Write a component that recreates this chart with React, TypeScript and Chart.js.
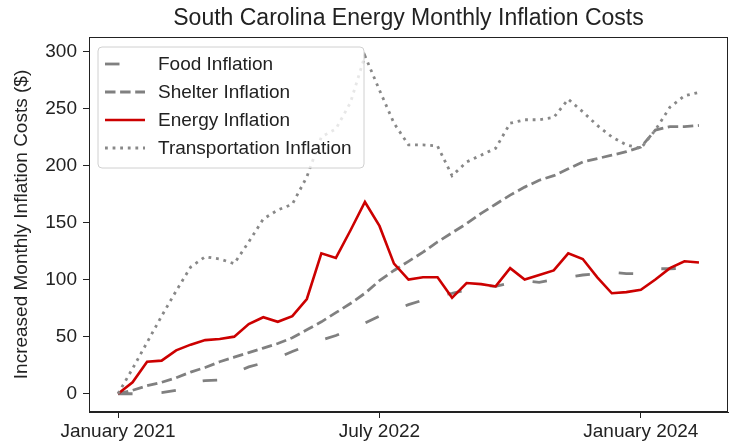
import React, { useEffect, useRef } from "react";
import { Chart, registerables } from "chart.js";

Chart.register(...registerables);

const months = [
  "2021-01", "2021-02", "2021-03", "2021-04", "2021-05", "2021-06", "2021-07", "2021-08", "2021-09", "2021-10", "2021-11", "2021-12",
  "2022-01", "2022-02", "2022-03", "2022-04", "2022-05", "2022-06", "2022-07", "2022-08", "2022-09", "2022-10", "2022-11", "2022-12",
  "2023-01", "2023-02", "2023-03", "2023-04", "2023-05", "2023-06", "2023-07", "2023-08", "2023-09", "2023-10", "2023-11", "2023-12",
  "2024-01", "2024-02", "2024-03", "2024-04", "2024-05",
];

const foodInflation = [0, 0, 0, 1, 3, 10, 11.5, 12, 18, 23.5, 27, 31.5, 37, 42, 47, 51, 56, 62, 68, 73, 78, 82, 86, 88, 91, 95, 94, 97, 99, 97.5, 100, 102, 104, 105, 106.5, 105.3, 105, 109.5, 109.5, 110, 111];
const shelterInflation = [0, 3, 7, 10, 14, 19, 23, 28, 32, 36, 40, 44, 49, 56, 63, 71, 79, 88, 99, 108, 116, 124, 133, 141, 149, 158, 166, 174, 181, 187, 191, 197, 203, 206, 209, 212, 216, 231, 234, 234, 235];
const energyInflation = [0, 10, 28, 29, 38, 43, 47, 48, 50, 61, 67, 63, 68, 83, 123, 119, 143, 168, 147, 114, 100, 102, 102, 84, 97, 96, 94, 110, 100, 104, 108, 123, 118, 102, 88, 89, 91, 100, 110, 116, 115];
const transportationInflation = [0, 22, 45, 68, 90, 111, 120, 118, 114, 133, 153, 161, 166, 190, 225, 232, 255, 296, 266, 237, 218, 218, 217, 191, 203, 209, 215, 237, 240, 240, 242, 258, 247, 235, 225, 218, 215, 231, 251, 261, 264];

const xTickIndex = [0, 18, 36];
const xTickLabels = ["January 2021", "July 2022", "January 2024"];
const yTickValues = [0, 50, 100, 150, 200, 250, 300];

const FONT = "'Liberation Sans', Arial, Helvetica, sans-serif";
const TEXT = "#222222";

const seriesNames = ["Food Inflation", "Shelter Inflation", "Energy Inflation", "Transportation Inflation"];
const seriesColors = ["#808080", "#808080", "#cc0000", "#888888"];
const seriesDash: number[][] = [[14.5, 29], [10.5, 4.6], [], [2.8, 4.8]];
const seriesWidth = [2.8, 2.8, 2.6, 2.8];

const framePlugin = {
  id: "frameTitleLegend",
  afterDatasetsDraw(chart: any) {
    const { ctx, chartArea } = chart;
    const { left, right, top, bottom } = chartArea;
    ctx.save();
    ctx.strokeStyle = TEXT;
    ctx.lineWidth = 1;
    ctx.setLineDash([]);
    ctx.strokeRect(left + 0.5, top + 0.5, right - left - 1, bottom - top - 1);

    const bx = 98, by = 47, bw = 266, bh = 121, r = 4;
    ctx.beginPath();
    ctx.moveTo(bx + r, by);
    ctx.lineTo(bx + bw - r, by);
    ctx.quadraticCurveTo(bx + bw, by, bx + bw, by + r);
    ctx.lineTo(bx + bw, by + bh - r);
    ctx.quadraticCurveTo(bx + bw, by + bh, bx + bw - r, by + bh);
    ctx.lineTo(bx + r, by + bh);
    ctx.quadraticCurveTo(bx, by + bh, bx, by + bh - r);
    ctx.lineTo(bx, by + r);
    ctx.quadraticCurveTo(bx, by, bx + r, by);
    ctx.closePath();
    ctx.fillStyle = "rgba(255,255,255,0.8)";
    ctx.fill();
    ctx.strokeStyle = "#d0d0d0";
    ctx.lineWidth = 1;
    ctx.stroke();

    ctx.font = `19px ${FONT}`;
    ctx.textBaseline = "middle";
    ctx.textAlign = "left";
    for (let i = 0; i < seriesNames.length; i++) {
      const y = 64 + i * 28;
      ctx.beginPath();
      ctx.strokeStyle = seriesColors[i];
      ctx.lineWidth = seriesWidth[i];
      ctx.setLineDash(seriesDash[i]);
      ctx.moveTo(105, y);
      ctx.lineTo(145, y);
      ctx.stroke();
      ctx.setLineDash([]);
      ctx.fillStyle = TEXT;
      ctx.fillText(seriesNames[i], 158, y + 1);
    }

    ctx.font = `23px ${FONT}`;
    ctx.textAlign = "center";
    ctx.textBaseline = "middle";
    ctx.fillStyle = TEXT;
    ctx.fillText("South Carolina Energy Monthly Inflation Costs", (left + right) / 2, 19);
    ctx.restore();
  },
};

export default function App() {
  const canvasRef = useRef<HTMLCanvasElement | null>(null);

  useEffect(() => {
    if (!canvasRef.current) return;
    const allSeries = [foodInflation, shelterInflation, energyInflation, transportationInflation];
    const chart = new Chart(canvasRef.current, {
      type: "line",
      data: {
        labels: months,
        datasets: allSeries.map((vals, i) => ({
          label: seriesNames[i],
          data: vals.map((v, k) => ({ x: k, y: v })),
          borderColor: seriesColors[i],
          backgroundColor: seriesColors[i],
          borderWidth: seriesWidth[i],
          borderDash: seriesDash[i],
          pointRadius: 0,
          tension: 0,
          fill: false,
          order: 4 - i,
        })),
      },
      options: {
        animation: false,
        responsive: true,
        maintainAspectRatio: false,
        layout: { padding: { top: 37, right: 3, left: 0, bottom: 0 } },
        plugins: {
          legend: { display: false },
          title: { display: false },
          tooltip: { enabled: false },
        },
        scales: {
          x: {
            type: "linear",
            min: -2,
            max: 42,
            afterBuildTicks: (scale: any) => {
              scale.ticks = xTickIndex.map((v) => ({ value: v }));
            },
            afterFit: (scale: any) => {
              scale.height = 33;
            },
            ticks: {
              font: { family: FONT, size: 19 },
              color: TEXT,
              padding: 2,
              maxRotation: 0,
              autoSkip: false,
              callback: (value: any) => {
                const idx = xTickIndex.indexOf(Number(value));
                return idx >= 0 ? xTickLabels[idx] : "";
              },
            },
            grid: { drawOnChartArea: false, drawTicks: true, tickLength: 6, color: TEXT, lineWidth: 1 },
            border: { display: true, color: TEXT, width: 1 },
          },
          y: {
            type: "linear",
            min: -16,
            max: 312.5,
            afterBuildTicks: (scale: any) => {
              scale.ticks = yTickValues.map((v) => ({ value: v }));
            },
            afterFit: (scale: any) => {
              scale.width = 89;
            },
            ticks: {
              font: { family: FONT, size: 19 },
              color: TEXT,
              padding: 6,
              autoSkip: false,
            },
            grid: { drawOnChartArea: false, drawTicks: true, tickLength: 6, color: TEXT, lineWidth: 1 },
            border: { display: true, color: TEXT, width: 1 },
            title: {
              display: true,
              text: "Increased Monthly Inflation Costs ($)",
              font: { family: FONT, size: 19 },
              color: TEXT,
              padding: { top: 10, bottom: 4 },
            },
          },
        },
      },
      plugins: [framePlugin],
    });
    return () => chart.destroy();
  }, []);

  return (
    <div style={{ position: "fixed", left: 0, top: 0, width: 731, height: 445, background: "#fff" }}>
      <canvas ref={canvasRef} />
    </div>
  );
}
